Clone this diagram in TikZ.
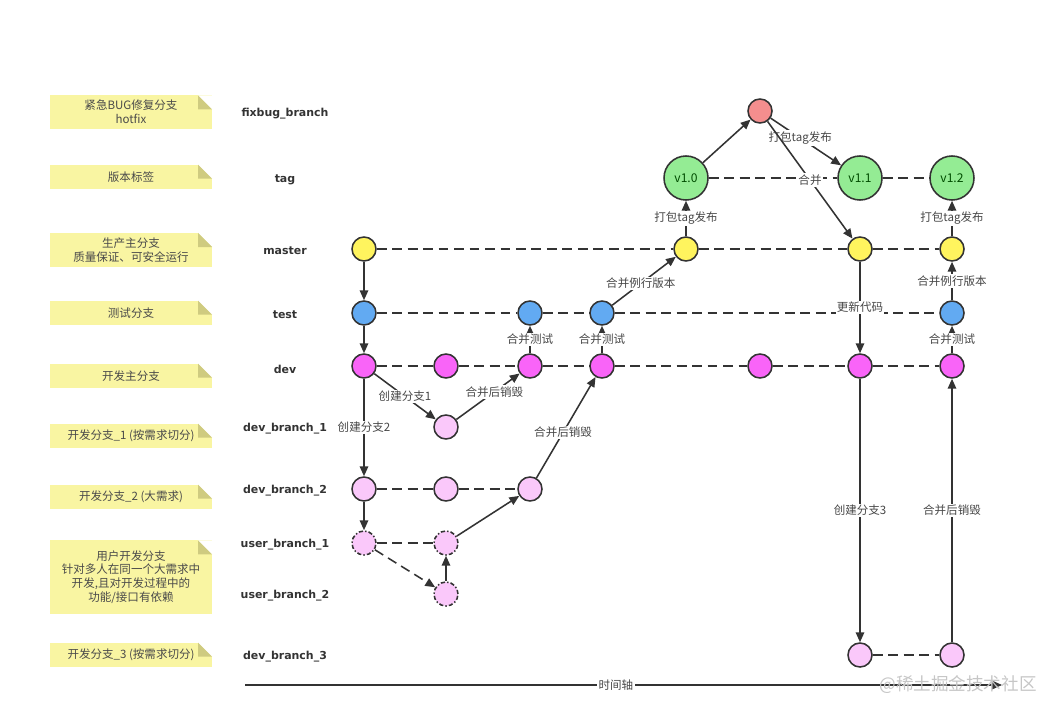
\documentclass[tikz,border=0pt]{standalone}
\usepackage{fontspec}
\setmainfont{Noto Sans CJK SC}
\newfontfamily\rowfont{DejaVu Sans}
\usetikzlibrary{arrows.meta}

\definecolor{ink}{HTML}{333333}
\definecolor{mastc}{HTML}{FFF45E}
\definecolor{testc}{HTML}{62AAF2}
\definecolor{devc}{HTML}{F964F8}
\definecolor{featc}{HTML}{FAC8FA}
\definecolor{tagc}{HTML}{94EC94}
\definecolor{fixc}{HTML}{F48E8E}
\definecolor{notec}{HTML}{F9F5A2}
\definecolor{foldc}{HTML}{CFCB80}
\definecolor{notetext}{HTML}{4A4A4A}

\begin{document}
\begin{tikzpicture}[
% Change style
	x=0.025cm, y=-0.025cm,
	line width=1.1pt,
	font=\fontsize{8.2}{9.8}\selectfont,
	post/.style={->, draw=ink, >={Triangle[length=7pt,width=6pt]}},
	lane/.style={draw=ink, dash pattern=on 7pt off 4pt},
	lbl/.style={fill=white, inner sep=1pt, text=ink!90},
	commit/.style={circle, draw=ink, minimum size=0.6cm, inner sep=0pt},
	mast/.style={commit, fill=mastc},
	tst/.style={commit, fill=testc},
	dv/.style={commit, fill=devc},
	feat/.style={commit, fill=featc},
	usr/.style={feat, dash pattern=on 3pt off 1.5pt on 1pt off 1.5pt},
	fix/.style={commit, fill=fixc},
	release/.style={commit, fill=tagc, minimum size=1.1cm, text=green!30!black,
		font=\fontsize{8.6}{10}\selectfont},
	row/.style={text=ink, yshift=-0.05cm, font=\rowfont\bfseries\fontsize{7.8}{9}\selectfont},
	note/.style={fill=notec, minimum width=4.05cm, minimum height=0.62cm,
		inner sep=1pt, align=center, text=notetext,
		path picture={
			\fill[white] (path picture bounding box.north east) -- ++(-0.35cm,0) -- ++(0.35cm,-0.35cm) -- cycle;
			\fill[foldc] (path picture bounding box.north east) ++(-0.35cm,0) -- ++(0,-0.35cm) -- ++(0.35cm,0) -- cycle;
		}}]

\useasboundingbox (0,0) rectangle (1058,716);

% Notes
\node[note, minimum height=0.83cm] (note1) at (131,112) {紧急BUG修复分支\\hotfix};
\node[note] (note2) at (131,177) {版本标签};
\node[note, minimum height=0.85cm] (note3) at (131,250) {生产主分支\\质量保证、可安全运行};
\node[note] (note4) at (131,313) {测试分支};
\node[note] (note5) at (131,376) {开发主分支};
\node[note] (note6) at (131,436) {开发分支\_1 (按需求切分)};
\node[note] (note7) at (131,497) {开发分支\_2 (大需求)};
\node[note, minimum height=1.83cm] (note8) at (131,577) {用户开发分支\\针对多人在同一个大需求中\\开发,且对开发过程中的\\功能/接口有依赖};
\node[note] (note9) at (131,655) {开发分支\_3 (按需求切分)};

% Row names
\node[row] (rowfix) at (285,112) {fixbug\_branch};
\node[row] (rowtag) at (285,178) {tag};
\node[row] (rowmaster) at (285,249) {master};
\node[row] (rowtest) at (285,313) {test};
\node[row] (rowdev) at (285,367) {dev};
\node[row] (rowdbone) at (285,427) {dev\_branch\_1};
\node[row] (rowdbtwo) at (285,489) {dev\_branch\_2};
\node[row] (rowubone) at (285,543) {user\_branch\_1};
\node[row] (rowubtwo) at (285,594) {user\_branch\_2};
\node[row] (rowdbthree) at (285,655) {dev\_branch\_3};

% Hotfix
\node[fix] (fix1) at (760,111) {};

% Tags
\node[release] (tag1) at (686,178) {v1.0};
\node[release] (tag2) at (860,178) {v1.1};
\node[release] (tag3) at (952,178) {v1.2};

% Master
\node[mast] (master1) at (364,249) {};
\node[mast] (master2) at (686,249) {};
\node[mast] (master3) at (860,249) {};
\node[mast] (master4) at (952,249) {};

% Test
\node[tst] (test1) at (364,313) {};
\node[tst] (test2) at (530,313) {};
\node[tst] (test3) at (602,313) {};
\node[tst] (test4) at (952,313) {};

% Dev
\node[dv] (dev1) at (364,366) {};
\node[dv] (dev2) at (446,366) {};
\node[dv] (dev3) at (530,366) {};
\node[dv] (dev4) at (602,366) {};
\node[dv] (dev5) at (760,366) {};
\node[dv] (dev6) at (860,366) {};
\node[dv] (dev7) at (952,366) {};

% dev_branch_1
\node[feat] (dbone1) at (446,427) {};

% dev_branch_2
\node[feat] (dbtwo1) at (364,489) {};
\node[feat] (dbtwo2) at (446,489) {};
\node[feat] (dbtwo3) at (530,489) {};

% user_branch_1 / user_branch_2
\node[usr] (ubone1) at (364,543) {};
\node[usr] (ubone2) at (446,543) {};
\node[usr] (ubtwo1) at (446,594) {};

% dev_branch_3
\node[feat] (dbthree1) at (860,655) {};
\node[feat] (dbthree2) at (952,655) {};

% Lanes
\draw[lane] (tag1) -- (tag2) -- (tag3);
\draw[lane] (master1) -- (master2) -- (master3) -- (master4);
\draw[lane] (test1) -- (test2) -- (test3) -- (test4);
\draw[lane] (dev1) -- (dev2) -- (dev3) -- (dev4) -- (dev5) -- (dev6) -- (dev7);
\draw[lane] (dbtwo1) -- (dbtwo2) -- (dbtwo3);
\draw[lane] (ubone1) -- (ubone2);
\draw[lane] (dbthree1) -- (dbthree2);

% Connections
\draw (master1) edge[post] (test1)
	(test1) edge[post] (dev1)
	(dev1) edge[post] node[lbl] {创建分支2} (dbtwo1)
	(dev1) edge[post] node[lbl] {创建分支1} (dbone1)
	(dbone1) edge[post] node[lbl, pos=0.6] {合并后销毁} (dev3)
	(dbtwo1) edge[post] (ubone1)
	(ubone1) edge[post, lane] (ubtwo1)
	(ubtwo1) edge[post] (ubone2)
	(ubone2) edge[post] (dbtwo3)
	(dbtwo3) edge[post] node[lbl, pos=0.45] {合并后销毁} (dev4)
	(dev3) edge[post] node[lbl] {合并测试} (test2)
	(dev4) edge[post] node[lbl] {合并测试} (test3)
	(test3) edge[post] node[lbl, pos=0.45] {合并例行版本} (master2)
	(master2) edge[post] node[lbl] {打包tag发布} (tag1)
	(tag1) edge[post] (fix1)
	(fix1) edge[post] node[lbl, pos=0.42] {打包tag发布} (tag2)
	(fix1) edge[post] node[lbl] {合并} (master3)
	(master3) edge[post] node[lbl] {更新代码} (dev6)
	(dev6) edge[post] node[lbl] {创建分支3} (dbthree1)
	(dbthree2) edge[post] node[lbl] {合并后销毁} (dev7)
	(dev7) edge[post] node[lbl] {合并测试} (test4)
	(test4) edge[post] node[lbl] {合并例行版本} (master4)
	(master4) edge[post] node[lbl] {打包tag发布} (tag3);

% Time axis
\coordinate (time0) at (245,685);
\coordinate (time1) at (1002,685);
\draw[post] (time0) -- node[lbl, pos=0.49] {时间轴} (time1);

% Watermark
\node[text=gray!45, font=\fontsize{12.5}{14}\selectfont] (mark) at (958,685) {@稀土掘金技术社区};

\end{tikzpicture}
\end{document}
